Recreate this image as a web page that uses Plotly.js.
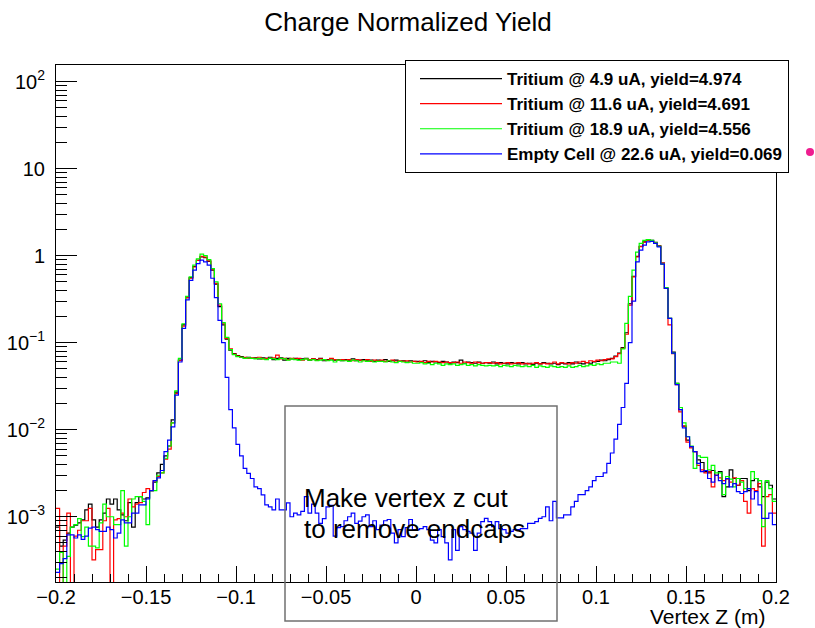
<!DOCTYPE html>
<html><head><meta charset="utf-8">
<script src="https://cdn.plot.ly/plotly-3.0.1.min.js"></script>
<style>html,body{margin:0;padding:0;background:#fff;}#chart{width:815px;height:628px;}</style>
</head><body><div id="chart"></div>
<script>
// Histogram definition: 200 bins of 2 mm from -0.2 m to 0.2 m
const binLow = -0.2;
const binWidth = 0.002;

const seriesNames = [
  'Tritium @ 4.9 uA, yield=4.974',
  'Tritium @ 11.6 uA, yield=4.691',
  'Tritium @ 18.9 uA, yield=4.556',
  'Empty Cell @ 22.6 uA, yield=0.069'
];
const seriesColors = ['#000000', '#ff0000', '#00ff00', '#0000ff'];

// Tritium @ 4.9 uA (black)
const tritium49 = [
  7.6e-4, 4.6e-4, 5.4e-4, 6.5e-4, 7.6e-4, 8.0e-4, 8.5e-4, 9.2e-4, 1.2e-3, 1.4e-3,
  9.2e-4, 7.6e-4, 9.2e-4, 1.1e-3, 1.6e-3, 1.4e-3, 1.6e-3, 1.2e-3, 1.05e-3, 9.0e-4,
  1.45e-3, 7.6e-4, 1.45e-3, 1.7e-3, 1.6e-3, 1.65e-3, 2.0e-3, 2.5e-3, 3.2e-3, 4.0e-3,
  5.0e-3, 6.5e-3, 0.013, 0.027, 0.063, 0.16, 0.33, 0.56, 0.75, 0.88,
  0.97, 0.95, 0.86, 0.68, 0.47, 0.26, 0.16, 0.11, 0.082, 0.075,
  0.071, 0.069, 0.067, 0.068, 0.066, 0.067, 0.065, 0.067, 0.066, 0.068,
  0.064, 0.066, 0.067, 0.063, 0.066, 0.065, 0.066, 0.064, 0.065, 0.066,
  0.063, 0.065, 0.064, 0.066, 0.062, 0.064, 0.065, 0.063, 0.064, 0.062,
  0.064, 0.063, 0.065, 0.062, 0.063, 0.064, 0.062, 0.063, 0.061, 0.063,
  0.062, 0.064, 0.061, 0.062, 0.063, 0.061, 0.062, 0.060, 0.062, 0.061,
  0.061, 0.060, 0.062, 0.059, 0.061, 0.060, 0.059, 0.061, 0.060, 0.058,
  0.060, 0.059, 0.063, 0.058, 0.060, 0.059, 0.058, 0.060, 0.058, 0.059,
  0.058, 0.060, 0.057, 0.059, 0.058, 0.057, 0.059, 0.058, 0.057, 0.059,
  0.057, 0.058, 0.056, 0.058, 0.057, 0.059, 0.058, 0.057, 0.058, 0.056,
  0.058, 0.057, 0.059, 0.057, 0.060, 0.058, 0.057, 0.059, 0.058, 0.060,
  0.061, 0.063, 0.062, 0.064, 0.066, 0.070, 0.076, 0.088, 0.13, 0.28,
  0.58, 0.98, 1.28, 1.44, 1.52, 1.5, 1.42, 1.3, 0.82, 0.42,
  0.19, 0.078, 0.034, 0.017, 0.011, 7.6e-3, 6.4e-3, 5.6e-3, 4.5e-3, 4.2e-3,
  3.3e-3, 3.2e-3, 3.4e-3, 3.0e-3, 3.3e-3, 1.7e-3, 2.2e-3, 3.45e-3, 2.75e-3, 2.3e-3,
  2.75e-3, 2.75e-3, 2.0e-3, 2.6e-3, 2.75e-3, 2.2e-3, 1.7e-3, 2.5e-3, 2.3e-3, 1.6e-3
];

// Tritium @ 11.6 uA (red); 1e-5 marks an empty bin (drawn to the frame bottom)
const tritium116 = [
  1.25e-3, 1e-5, 4.6e-4, 1.1e-3, 1e-5, 6.0e-4, 7.0e-4, 9.0e-4, 9.0e-4, 1.25e-3,
  3.2e-4, 4.2e-4, 4.2e-4, 9.0e-4, 1.25e-3, 1e-5, 9.2e-4, 9.5e-4, 1.1e-3, 1.0e-3,
  1.6e-3, 1.3e-3, 1.4e-3, 1.45e-3, 1.9e-3, 2.1e-3, 2.0e-3, 2.6e-3, 2.9e-3, 3.2e-3,
  4.6e-3, 6.0e-3, 0.012, 0.026, 0.062, 0.155, 0.33, 0.55, 0.74, 0.88,
  0.98, 0.96, 0.87, 0.69, 0.48, 0.27, 0.165, 0.112, 0.085, 0.074,
  0.070, 0.068, 0.068, 0.066, 0.067, 0.066, 0.068, 0.065, 0.066, 0.066,
  0.067, 0.072, 0.065, 0.066, 0.064, 0.066, 0.065, 0.066, 0.063, 0.065,
  0.064, 0.065, 0.063, 0.065, 0.064, 0.063, 0.066, 0.064, 0.063, 0.064,
  0.063, 0.064, 0.062, 0.064, 0.063, 0.062, 0.064, 0.061, 0.063, 0.062,
  0.063, 0.061, 0.062, 0.063, 0.060, 0.062, 0.061, 0.062, 0.060, 0.061,
  0.060, 0.061, 0.059, 0.061, 0.060, 0.061, 0.060, 0.059, 0.060, 0.059,
  0.059, 0.060, 0.058, 0.060, 0.059, 0.058, 0.060, 0.059, 0.058, 0.059,
  0.059, 0.058, 0.059, 0.057, 0.058, 0.059, 0.057, 0.058, 0.059, 0.057,
  0.058, 0.057, 0.058, 0.059, 0.057, 0.058, 0.057, 0.058, 0.060, 0.057,
  0.059, 0.058, 0.057, 0.059, 0.058, 0.060, 0.061, 0.059, 0.062, 0.061,
  0.063, 0.062, 0.064, 0.065, 0.065, 0.069, 0.075, 0.086, 0.125, 0.27,
  0.57, 0.97, 1.27, 1.43, 1.5, 1.49, 1.41, 1.29, 0.82, 0.42,
  0.16, 0.075, 0.033, 0.016, 0.011, 7.2e-3, 6.2e-3, 5.6e-3, 3.9e-3, 3.45e-3,
  3.2e-3, 3.3e-3, 2.2e-3, 3.0e-3, 2.8e-3, 2.6e-3, 2.7e-3, 2.5e-3, 2.8e-3, 2.3e-3,
  2.6e-3, 1.5e-3, 1.1e-3, 2.1e-3, 2.0e-3, 2.4e-3, 4.6e-4, 1.7e-3, 1.8e-3, 1.1e-3
];

// Tritium @ 18.9 uA (green)
const tritium189 = [
  2.5e-4, 3.9e-4, 1e-5, 3.5e-4, 7.6e-4, 8.1e-4, 9.5e-4, 5.9e-4, 7.6e-4, 4.6e-4,
  4.6e-4, 4.4e-4, 8.5e-4, 1.4e-3, 1.0e-3, 1.0e-3, 8.1e-4, 8.1e-4, 2.0e-3, 4.6e-4,
  1.0e-3, 1.6e-3, 1.7e-3, 1.7e-3, 1.5e-3, 8.1e-4, 2.0e-3, 2.0e-3, 3.0e-3, 3.2e-3,
  4.7e-3, 6.5e-3, 0.012, 0.028, 0.066, 0.165, 0.34, 0.57, 0.78, 0.92,
  1.04, 1.0, 0.9, 0.71, 0.5, 0.28, 0.17, 0.115, 0.083, 0.073,
  0.069, 0.068, 0.066, 0.067, 0.066, 0.065, 0.066, 0.065, 0.064, 0.066,
  0.065, 0.064, 0.066, 0.065, 0.063, 0.065, 0.064, 0.063, 0.064, 0.065,
  0.063, 0.064, 0.062, 0.063, 0.064, 0.062, 0.063, 0.060, 0.063, 0.062,
  0.062, 0.061, 0.063, 0.062, 0.060, 0.062, 0.061, 0.062, 0.060, 0.061,
  0.061, 0.060, 0.062, 0.060, 0.059, 0.061, 0.060, 0.059, 0.060, 0.058,
  0.058, 0.059, 0.057, 0.058, 0.056, 0.058, 0.057, 0.055, 0.057, 0.056,
  0.057, 0.055, 0.056, 0.057, 0.055, 0.056, 0.054, 0.056, 0.055, 0.054,
  0.055, 0.054, 0.055, 0.053, 0.055, 0.054, 0.053, 0.055, 0.054, 0.053,
  0.054, 0.053, 0.055, 0.052, 0.054, 0.053, 0.052, 0.054, 0.053, 0.052,
  0.053, 0.052, 0.054, 0.052, 0.053, 0.055, 0.053, 0.054, 0.056, 0.055,
  0.057, 0.056, 0.058, 0.058, 0.060, 0.060, 0.058, 0.085, 0.167, 0.34,
  0.68, 1.1, 1.38, 1.5, 1.53, 1.5, 1.4, 1.28, 0.8, 0.43,
  0.19, 0.076, 0.034, 0.018, 0.012, 8.3e-3, 6.5e-3, 3.6e-3, 5.0e-3, 4.8e-3,
  4.8e-3, 3.45e-3, 3.9e-3, 3.2e-3, 3.2e-3, 1.8e-3, 2.9e-3, 2.7e-3, 2.2e-3, 2.75e-3,
  2.5e-3, 2.1e-3, 2.1e-3, 3.3e-3, 2.75e-3, 2.6e-3, 7.7e-4, 2.6e-3, 2.1e-3, 1.5e-3
];

// Empty Cell @ 22.6 uA (blue)
const emptyCell = [
  2.3e-4, 2.9e-4, 3.3e-4, 6.2e-4, 6.2e-4, 5.7e-4, 6.2e-4, 5.5e-4, 6.0e-4, 7.4e-4,
  7.6e-4, 7.1e-4, 6.8e-4, 6.8e-4, 7.6e-4, 7.1e-4, 5.7e-4, 6.5e-4, 9.2e-4, 8.5e-4,
  8.5e-4, 1.1e-3, 1.1e-3, 1.37e-3, 1.37e-3, 1.6e-3, 2.0e-3, 2.6e-3, 2.8e-3, 3.4e-3,
  5.6e-3, 7.6e-3, 0.0108, 0.025, 0.06, 0.146, 0.31, 0.52, 0.68, 0.81,
  0.89, 0.85, 0.78, 0.55, 0.33, 0.18, 0.10, 0.04, 0.017, 0.0105,
  0.0068, 0.0050, 3.6e-3, 3.15e-3, 2.75e-3, 2.2e-3, 2.1e-3, 1.78e-3, 1.37e-3, 1.3e-3,
  1.2e-3, 1.6e-3, 1.2e-3, 1.2e-3, 1.44e-3, 1.0e-3, 1.1e-3, 1.05e-3, 1.15e-3, 1.7e-3,
  1.1e-3, 1.4e-3, 1.1e-3, 8.4e-4, 9.5e-4, 1.3e-3, 1.35e-3, 6.0e-4, 7.5e-4, 7.7e-4,
  9.0e-4, 1.0e-3, 1.1e-3, 8.4e-4, 8.9e-4, 1.0e-3, 1.05e-3, 7.7e-4, 9.0e-4, 7.1e-4,
  8.0e-4, 9.0e-4, 9.3e-4, 6.5e-4, 5.0e-4, 7.1e-4, 5.9e-4, 7.5e-4, 9.3e-4, 7.1e-4,
  7.1e-4, 7.3e-4, 7.7e-4, 7.1e-4, 5.4e-4, 5.0e-4, 7.1e-4, 5.9e-4, 5.0e-4, 3.2e-4,
  7.1e-4, 4.1e-4, 7.7e-4, 7.1e-4, 6.8e-4, 6.5e-4, 4.1e-4, 6.5e-4, 8.8e-4, 9.6e-4,
  8.8e-4, 7.7e-4, 8.8e-4, 7.3e-4, 7.1e-4, 6.5e-4, 6.8e-4, 7.1e-4, 7.1e-4, 7.3e-4,
  7.3e-4, 8.4e-4, 8.4e-4, 8.8e-4, 9.6e-4, 1.0e-3, 1.3e-3, 9.0e-4, 1.5e-3, 9.7e-4,
  9.7e-4, 1.05e-3, 1.05e-3, 1.3e-3, 1.5e-3, 1.8e-3, 1.8e-3, 2.0e-3, 2.2e-3, 2.6e-3,
  2.9e-3, 2.9e-3, 3.2e-3, 4.1e-3, 5.4e-3, 7.8e-3, 0.0115, 0.018, 0.034, 0.1,
  0.3, 0.85, 1.16, 1.32, 1.44, 1.46, 1.38, 1.26, 0.8, 0.42,
  0.19, 0.076, 0.033, 0.017, 0.0105, 8.3e-3, 6.4e-3, 5.6e-3, 4.1e-3, 3.3e-3,
  3.4e-3, 2.75e-3, 2.5e-3, 3.0e-3, 2.6e-3, 2.4e-3, 2.75e-3, 2.2e-3, 2.4e-3, 1.94e-3,
  1.85e-3, 1.94e-3, 2.1e-3, 1.6e-3, 1.94e-3, 1.37e-3, 9.6e-4, 9.6e-4, 1.1e-3, 8.1e-4
];

const xTickVals = [-0.2, -0.15, -0.1, -0.05, 0, 0.05, 0.1, 0.15, 0.2];
const xTickText = ['\u22120.2', '\u22120.15', '\u22120.1', '\u22120.05', '0', '0.05', '0.1', '0.15', '0.2'];
const yTickVals = [1e-3, 1e-2, 1e-1, 1, 10, 100];
const yTickText = ['10<sup>\u22123</sup>', '10<sup>\u22122</sup>', '10<sup>\u22121</sup>', '1', '10', '10<sup>2</sup>'];

const allSeries = [tritium49, tritium116, tritium189, emptyCell];

function histTrace(vals, i) {
  const x = [], y = [];
  for (let k = 0; k < vals.length; k++) { x.push(binLow + k * binWidth); y.push(vals[k]); }
  x.push(binLow + vals.length * binWidth); y.push(vals[vals.length - 1]);
  return {
    type: 'scatter', mode: 'lines', x: x, y: y, name: seriesNames[i],
    line: {shape: 'hv', color: seriesColors[i], width: 1.2},
    hoverinfo: 'skip'
  };
}
const traces = allSeries.map(histTrace);

const minorX = [];
for (let k = 0; k <= 40; k++) minorX.push(Math.round((-0.2 + k * 0.01) * 1000) / 1000);
const minorY = [];
for (let e = -4; e <= 2; e++) for (let d = 2; d <= 9; d++) minorY.push(d * Math.pow(10, e));

const FONT = 'Liberation Sans, Arial, Helvetica, sans-serif';
const W = 815, H = 628, ML = 56, MR = 39, MT = 65, MB = 46;
const PW = W - ML - MR, PH = H - MT - MB;
const px = v => (v - ML) / PW;
const py = v => (H - MB - v) / PH;

const layout = {
  width: W, height: H,
  margin: {l: ML, r: MR, t: MT, b: MB, pad: 0},
  paper_bgcolor: '#ffffff', plot_bgcolor: '#ffffff',
  font: {family: FONT, color: '#000'},
  title: {text: 'Charge Normalized Yield', font: {family: FONT, size: 26, color: '#000'},
          x: 408 / W, xref: 'container', xanchor: 'center', y: 1 - 22 / H, yref: 'container', yanchor: 'middle'},
  showlegend: true,
  legend: {x: px(405), y: py(60), xanchor: 'left', yanchor: 'top',
           bgcolor: '#ffffff', bordercolor: '#000000', borderwidth: 1,
           font: {family: FONT, size: 17, color: '#000', weight: 'bold'},
           itemwidth: 82, indentation: 9, traceorder: 'normal'},
  xaxis: {range: [-0.2, 0.2], tickmode: 'array', tickvals: xTickVals, ticktext: xTickText,
          ticks: 'inside', ticklen: 16, tickwidth: 1, tickcolor: '#000',
          showline: true, mirror: true, linecolor: '#000', linewidth: 1,
          showgrid: false, zeroline: false, ticklabelstandoff: -3,
          tickfont: {family: FONT, size: 20, color: '#000'},
          minor: {tickmode: 'array', tickvals: minorX, ticks: 'inside', ticklen: 8, tickwidth: 1, tickcolor: '#000', showgrid: false}},
  yaxis: {type: 'log', range: [Math.log10(1.78e-4), Math.log10(155)],
          tickmode: 'array', tickvals: yTickVals, ticktext: yTickText,
          ticks: 'inside', ticklen: 21, tickwidth: 1, tickcolor: '#000',
          showline: true, mirror: true, linecolor: '#000', linewidth: 1,
          showgrid: false, zeroline: false, ticklabelstandoff: 6,
          tickfont: {family: FONT, size: 20, color: '#000'},
          minor: {tickmode: 'array', tickvals: minorY, ticks: 'inside', ticklen: 11, tickwidth: 1, tickcolor: '#000', showgrid: false}},
  shapes: [
    {type: 'rect', xref: 'paper', yref: 'paper', x0: px(285), x1: px(557), y0: py(621), y1: py(406),
     line: {color: '#707070', width: 1.5}, fillcolor: 'rgba(0,0,0,0)', layer: 'above'},
    {type: 'circle', xref: 'paper', yref: 'paper', x0: px(806), x1: px(814), y0: py(156), y1: py(148),
     line: {width: 0}, fillcolor: '#ee1d8f'}
  ],
  annotations: [
    {text: 'Make vertex z cut', xref: 'paper', yref: 'paper', x: px(302), y: py(498), xanchor: 'left', yanchor: 'middle',
     showarrow: false, font: {family: FONT, size: 26, color: '#000'}},
    {text: 'to remove endcaps', xref: 'paper', yref: 'paper', x: px(302), y: py(529), xanchor: 'left', yanchor: 'middle',
     showarrow: false, font: {family: FONT, size: 26, color: '#000'}},
    {text: 'Vertex Z (m)', xref: 'paper', yref: 'paper', x: px(768), y: py(616), xanchor: 'right', yanchor: 'middle',
     showarrow: false, font: {family: FONT, size: 21, color: '#000'}}
  ]
};

Plotly.newPlot('chart', traces, layout, {staticPlot: true, displayModeBar: false});
</script>
</body></html>
